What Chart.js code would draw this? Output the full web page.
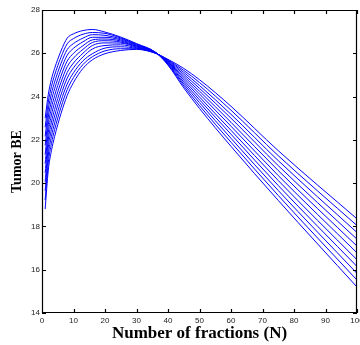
<!DOCTYPE html>
<html>
<head>
<meta charset="utf-8">
<script src="https://cdn.jsdelivr.net/npm/chart.js@4.4.1/dist/chart.umd.min.js"></script>
<style>
  html, body { margin: 0; padding: 0; background: #fff; }
  canvas { display: block; }
</style>
</head>
<body>
<canvas id="chart1" width="360" height="345"></canvas>
<script>
// number of fractions where the curves were read
const fracN = [1, 2, 3, 4, 6, 8, 10, 13, 16, 20, 25, 30, 36, 40, 45, 50, 60, 75, 100];

// tumor BE, one array per curve (highest peak first)
const be1  = [23.0, 24.1, 24.8, 25.3, 26.1, 26.7, 26.9, 27.05, 27.1, 26.98, 26.75, 26.45, 26.05, 25.45, 24.4, 23.45, 21.7, 19.2, 15.2];
const be2  = [22.58, 23.75, 24.47, 24.99, 25.81, 26.44, 26.68, 26.88, 26.96, 26.92, 26.71, 26.42, 26.05, 25.48, 24.49, 23.58, 21.89, 19.43, 15.52];
const be3  = [22.16, 23.4, 24.14, 24.67, 25.52, 26.17, 26.45, 26.7, 26.86, 26.83, 26.67, 26.4, 26.04, 25.5, 24.58, 23.72, 22.07, 19.66, 15.83];
const be4  = [21.74, 23.05, 23.81, 24.36, 25.23, 25.91, 26.23, 26.53, 26.74, 26.74, 26.62, 26.37, 26.04, 25.53, 24.67, 23.85, 22.26, 19.89, 16.15];
const be5  = [21.32, 22.7, 23.48, 24.04, 24.94, 25.64, 26.0, 26.35, 26.62, 26.66, 26.57, 26.34, 26.03, 25.56, 24.76, 23.98, 22.44, 20.12, 16.46];
const be6  = [20.9, 22.35, 23.15, 23.73, 24.65, 25.38, 25.78, 26.18, 26.5, 26.58, 26.52, 26.32, 26.03, 25.59, 24.85, 24.12, 22.63, 20.35, 16.78];
const be7  = [20.48, 22.0, 22.82, 23.41, 24.36, 25.11, 25.55, 26.0, 26.36, 26.48, 26.47, 26.29, 26.02, 25.61, 24.94, 24.25, 22.81, 20.58, 17.09];
const be8  = [20.06, 21.65, 22.49, 23.1, 24.07, 24.85, 25.33, 25.83, 26.2, 26.36, 26.39, 26.26, 26.02, 25.64, 25.03, 24.38, 23.0, 20.81, 17.41];
const be9  = [19.64, 21.3, 22.16, 22.78, 23.78, 24.58, 25.1, 25.65, 25.98, 26.24, 26.3, 26.23, 26.01, 25.67, 25.12, 24.51, 23.18, 21.04, 17.72];
const be10 = [19.22, 20.95, 21.83, 22.47, 23.49, 24.32, 24.88, 25.48, 25.84, 26.11, 26.21, 26.21, 26.01, 25.69, 25.21, 24.65, 23.37, 21.27, 18.04];
const be11 = [18.8, 20.6, 21.5, 22.15, 23.2, 24.05, 24.65, 25.3, 25.7, 25.98, 26.13, 26.18, 26.0, 25.72, 25.3, 24.78, 23.55, 21.5, 18.35];

const curves = [be1, be2, be3, be4, be5, be6, be7, be8, be9, be10, be11];

const xTicks = [0, 10, 20, 30, 40, 50, 60, 70, 80, 90, 100];
const yTicks = [14, 16, 18, 20, 22, 24, 26, 28];

const xTitle = 'Number of fractions (N)';
const yTitle = 'Tumor BE';

const tickFont = { family: '"Liberation Sans", Arial, sans-serif', size: 8 };
const xTitleFont = { family: '"Liberation Serif", "Times New Roman", serif', size: 17, weight: 'bold' };
const yTitleFont = { family: '"Liberation Serif", "Times New Roman", serif', size: 14, weight: 'bold' };

// matlab style box with inward ticks on all four sides
const boxPlugin = {
    id: 'box',
    afterDraw(chart) {
        const { ctx, chartArea: a, scales: { x, y } } = chart;
        const len = 4;
        ctx.save();
        ctx.strokeStyle = '#000';
        ctx.lineWidth = 1.2;
        ctx.beginPath();
        ctx.rect(Math.round(a.left) + 0.5, Math.round(a.top) + 0.5,
            Math.round(a.right - a.left) - 1, Math.round(a.bottom - a.top) - 1);
        xTicks.forEach(v => {
            const px = Math.round(x.getPixelForValue(v)) + 0.5;
            ctx.moveTo(px, a.bottom);
            ctx.lineTo(px, a.bottom - len);
            ctx.moveTo(px, a.top);
            ctx.lineTo(px, a.top + len);
        });
        yTicks.forEach(v => {
            const py = Math.round(y.getPixelForValue(v)) + 0.5;
            ctx.moveTo(a.left, py);
            ctx.lineTo(a.left + len, py);
            ctx.moveTo(a.right, py);
            ctx.lineTo(a.right - len, py);
        });
        ctx.stroke();
        ctx.restore();
    }
};

const chart1 = new Chart(document.getElementById('chart1'), {
    type: 'line',
    data: {
        datasets: curves.map(c => ({
            data: fracN.map((n, i) => ({ x: n, y: c[i] })),
            borderColor: '#0000ff',
            borderWidth: 1,
            pointRadius: 0,
            fill: false,
            cubicInterpolationMode: 'monotone'
        }))
    },
    options: {
        responsive: false,
        animation: false,
        events: [],
        layout: { padding: { left: 0, right: 3, top: 10, bottom: 0 } },
        plugins: {
            legend: { display: false },
            tooltip: { enabled: false }
        },
        scales: {
            x: {
                type: 'linear',
                min: 0,
                max: 100,
                afterBuildTicks: s => { s.ticks = xTicks.map(v => ({ value: v })); },
                ticks: { font: tickFont, color: '#222', padding: 3, maxRotation: 0, autoSkip: false },
                grid: { display: false, drawTicks: false },
                border: { display: false },
                title: { display: true, text: xTitle, font: xTitleFont, color: '#000', padding: { top: 0, bottom: 1 } },
                afterFit: s => { s.height = 32; s.paddingLeft = 0; s.paddingRight = 0; }
            },
            y: {
                min: 14,
                max: 28,
                afterBuildTicks: s => { s.ticks = yTicks.map(v => ({ value: v })); },
                ticks: { font: tickFont, color: '#222', padding: 2, autoSkip: false },
                grid: { display: false, drawTicks: false },
                border: { display: false },
                title: { display: true, text: yTitle, font: yTitleFont, color: '#000', padding: { top: 9, bottom: 0 } },
                afterFit: s => { s.width = 42; s.paddingTop = 0; s.paddingBottom = 0; }
            }
        }
    },
    plugins: [boxPlugin]
});
</script>
</body>
</html>
